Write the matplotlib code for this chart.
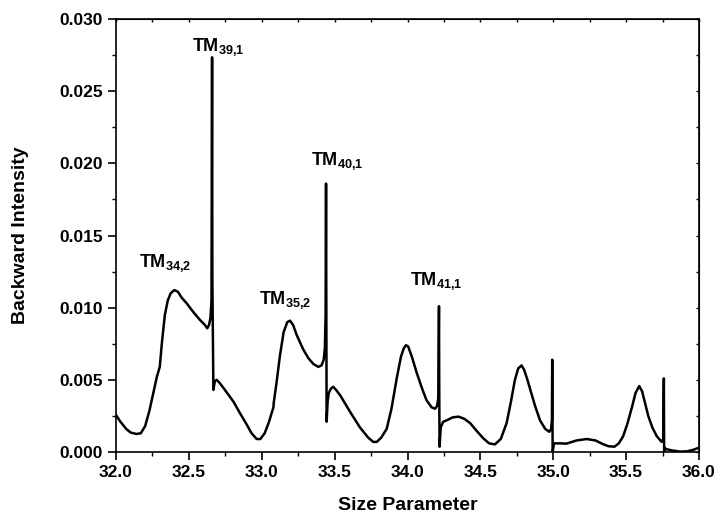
import numpy as np
import matplotlib.pyplot as plt
from matplotlib.ticker import MultipleLocator

plt.rcParams['font.family'] = 'Liberation Sans'
plt.rcParams['font.weight'] = 'bold'
plt.rcParams['mathtext.fontset'] = 'custom'
plt.rcParams['mathtext.rm'] = 'Liberation Sans:bold'
plt.rcParams['mathtext.bf'] = 'Liberation Sans:bold'

# traced spectrum (size parameter, backward intensity)
size_param = [
    32.00, 32.03, 32.07, 32.10, 32.14, 32.17, 32.20, 32.23, 32.26, 32.28, 32.30, 32.302,
    32.315, 32.335, 32.355, 32.375, 32.40, 32.425, 32.45, 32.485, 32.53, 32.576, 32.61,
    32.626, 32.638, 32.648, 32.655, 32.659, 32.661, 32.668, 32.678, 32.69, 32.71, 32.74,
    32.805, 32.85, 32.897, 32.93, 32.965, 32.99, 33.02, 33.05, 33.08, 33.082, 33.10,
    33.125, 33.15, 33.175, 33.194, 33.215, 33.24, 33.285, 33.32, 33.354, 33.388, 33.41,
    33.425, 33.433, 33.438, 33.441, 33.445, 33.452, 33.46, 33.475, 33.49, 33.51, 33.54,
    33.605, 33.674, 33.73, 33.765, 33.789, 33.82, 33.857, 33.89, 33.926, 33.955, 33.975,
    33.99, 34.005, 34.03, 34.063, 34.10, 34.13, 34.165, 34.189, 34.203, 34.211, 34.216,
    34.218, 34.22, 34.228, 34.245, 34.27, 34.31, 34.35, 34.39, 34.43, 34.48, 34.52,
    34.56, 34.60, 34.64, 34.68, 34.71, 34.737, 34.76, 34.783, 34.80, 34.82, 34.84,
    34.875, 34.909, 34.945, 34.973, 34.985, 34.991, 34.993, 34.996, 35.005, 35.05, 35.09,
    35.16, 35.23, 35.29, 35.34, 35.38, 35.42, 35.45, 35.48, 35.51, 35.54, 35.565, 35.59,
    35.61, 35.63, 35.652, 35.68, 35.71, 35.744, 35.755, 35.759, 35.761, 35.764, 35.774,
    35.82, 35.87, 35.92, 35.96, 36.00,
]
intensity = [
    0.00256, 0.0021, 0.0016, 0.00135, 0.00125, 0.0013, 0.0018, 0.0029, 0.0043, 0.0052, 0.0059, 0.0061,
    0.0076, 0.0095, 0.0105, 0.0110, 0.01122, 0.0111, 0.0107, 0.0103, 0.0097, 0.00915, 0.0088,
    0.00857, 0.0088, 0.0093, 0.0105, 0.02735, 0.0120, 0.0043, 0.0049, 0.0050, 0.0048, 0.0044,
    0.0035, 0.0027, 0.0019, 0.0013, 0.0009, 0.0009, 0.0013, 0.0021, 0.0031, 0.0034, 0.0047,
    0.0067, 0.0083, 0.0090, 0.0091, 0.0088, 0.0081, 0.0071, 0.0065, 0.0061, 0.0059, 0.0060,
    0.0064, 0.0072, 0.0095, 0.0186, 0.0021, 0.0035, 0.0041, 0.0044, 0.00452, 0.0043, 0.0039,
    0.0028, 0.0017, 0.0010, 0.0007, 0.0007, 0.0010, 0.0016, 0.0030, 0.0051, 0.0066, 0.0072,
    0.0074, 0.0073, 0.0066, 0.0055, 0.0044, 0.0036, 0.0031, 0.0030, 0.0032, 0.0037, 0.0101,
    0.0040, 0.00037, 0.0017, 0.0021, 0.0022, 0.0024, 0.00245, 0.0023, 0.0020, 0.0014, 0.00095,
    0.0006, 0.00053, 0.0009, 0.0020, 0.0035, 0.0050, 0.0058, 0.0060, 0.0057, 0.0051, 0.0044,
    0.0032, 0.0022, 0.0016, 0.0014, 0.0016, 0.0022, 0.0064, 0.0000, 0.0006, 0.0006, 0.00058,
    0.0008, 0.0009, 0.0008, 0.00055, 0.0004, 0.00037, 0.0006, 0.0011, 0.0020, 0.0031, 0.0041, 0.00457,
    0.0042, 0.0034, 0.0025, 0.0017, 0.0011, 0.0007, 0.0009, 0.0051, 0.0000, 0.0003, 0.0002,
    0.0001, 0.00003, 0.00005, 0.00015, 0.0003,
]

labels = [r'$\mathbf{TM_{34{,}2}}$', r'$\mathbf{TM_{39{,}1}}$', r'$\mathbf{TM_{40{,}1}}$',
          r'$\mathbf{TM_{35{,}2}}$', r'$\mathbf{TM_{41{,}1}}$']
label_x = [32.34, 32.70, 33.52, 33.16, 34.20]
label_y = [0.0123, 0.0273, 0.0194, 0.0098, 0.0111]

fig = plt.figure(figsize=(7.18, 5.17), dpi=100)
ax = fig.add_axes([0.1616, 0.1257, 0.8119, 0.8375])

ax.plot(size_param, intensity, color='black', lw=1.8)

for t, x, y in zip(labels, label_x, label_y):
    ax.text(x, y, t, fontsize=13, ha='center', va='bottom')

ax.set_xlim(32, 36)
ax.set_ylim(0, 0.030)
ax.xaxis.set_major_locator(MultipleLocator(0.5))
ax.xaxis.set_minor_locator(MultipleLocator(0.25))
ax.yaxis.set_major_locator(MultipleLocator(0.005))
ax.yaxis.set_minor_locator(MultipleLocator(0.0025))
ax.yaxis.set_major_formatter(plt.FormatStrFormatter('%.3f'))
ax.xaxis.set_major_formatter(plt.FormatStrFormatter('%.1f'))
ax.tick_params(which='major', direction='out', length=6, width=1.2, labelsize=12.5)
ax.tick_params(which='minor', direction='out', length=3, width=1.0)
for s in ax.spines.values():
    s.set_linewidth(1.2)

top = ax.secondary_xaxis('top')
top.xaxis.set_major_locator(MultipleLocator(0.25))
top.tick_params(direction='in', length=2, width=1.0, labeltop=False)
right = ax.secondary_yaxis('right')
right.yaxis.set_major_locator(MultipleLocator(0.0025))
right.tick_params(direction='in', length=2, width=1.0, labelright=False)

ax.set_xlabel('Size Parameter', fontsize=14, fontweight='bold', labelpad=12)
ax.set_ylabel('Backward Intensity', fontsize=14, fontweight='bold', labelpad=22)

fig.savefig('out.png', dpi=100)
